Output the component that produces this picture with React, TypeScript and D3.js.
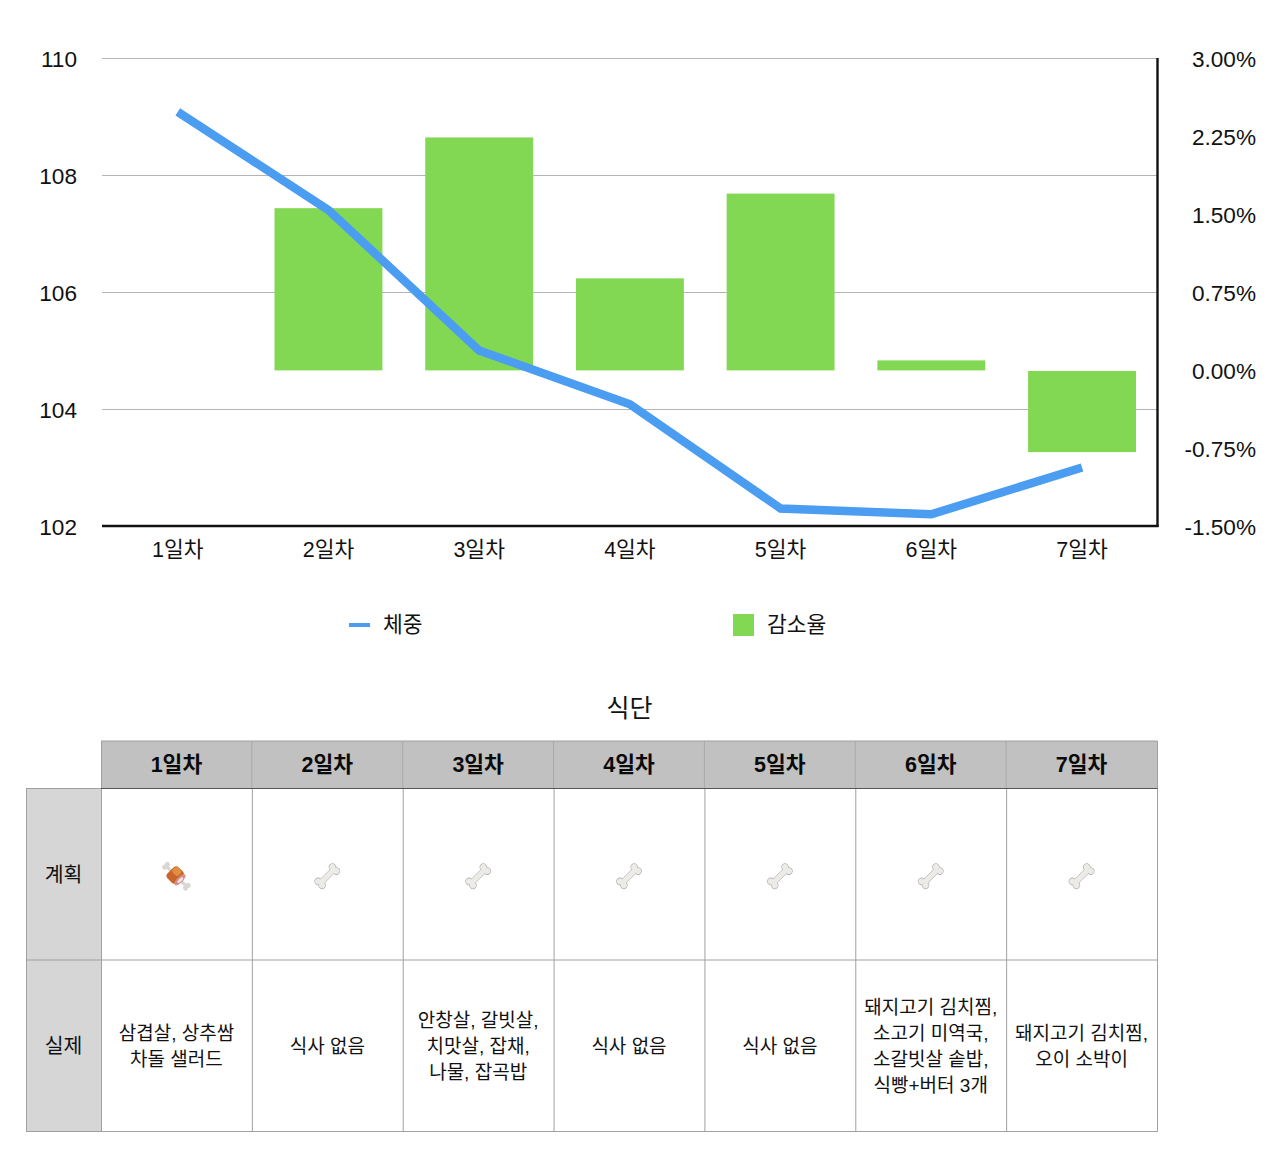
import React from "react";
import * as d3 from "d3";

const days = ["1일차", "2일차", "3일차", "4일차", "5일차", "6일차", "7일차"];
const weight = [109.08, 107.4, 105.0, 104.08, 102.3, 102.2, 103.0];
const rate: (number | null)[] = [null, 1.56, 2.24, 0.885, 1.7, 0.096, -0.78];
const leftTicks = [102, 104, 106, 108, 110];
const rightTicks = [-1.5, -0.75, 0, 0.75, 1.5, 2.25, 3];
const rowHeads = ["계획", "실제"];
const plan = ["meat", "bone", "bone", "bone", "bone", "bone", "bone"];
const actual = [
  ["삼겹살, 상추쌈", "차돌 샐러드"],
  ["식사 없음"],
  ["안창살, 갈빗살,", "치맛살, 잡채,", "나물, 잡곡밥"],
  ["식사 없음"],
  ["식사 없음"],
  ["돼지고기 김치찜,", "소고기 미역국,", "소갈빗살 솥밥,", "식빵+버터 3개"],
  ["돼지고기 김치찜,", "오이 소박이"],
];

const FONT = '"Liberation Sans", "Noto Sans CJK KR", sans-serif';
const L = 102, R = 1157, T = 58, B = 526;

const x = d3.scaleBand<string>().domain(days).range([L + 0.4, R + 0.4]).paddingInner(0.284).paddingOuter(0.142);
const y = d3.scaleLinear().domain([102, 110]).range([B, T]);
const y2 = d3.scaleLinear().domain([-1.5, 3]).range([B, T]);
const cx = (d: string) => x(d)! + x.bandwidth() / 2;
const line = d3.line<number>().x((_, i) => cx(days[i])).y((v) => y(v));

const colX = d3.scaleBand<string>().domain(days).range([101, 1157]);
const rowY = d3.scaleBand<string>().domain(rowHeads).range([788.5, 1131.5]);

function Bone({ px, py }: { px: number; py: number }) {
  return (
    <g transform={`translate(${px},${py}) rotate(-45) scale(0.88)`}>
      <rect x={-11} y={-3.4} width={22} height={6.8} fill="#a8a7a4" />
      <circle cx={-11.5} cy={-3.2} r={4.1} fill="#a8a7a4" />
      <circle cx={-11.5} cy={3.2} r={4.1} fill="#a8a7a4" />
      <circle cx={11.5} cy={-3.2} r={4.1} fill="#a8a7a4" />
      <circle cx={11.5} cy={3.2} r={4.1} fill="#a8a7a4" />
      <rect x={-11} y={-2.9} width={22} height={5.8} fill="#ecebe8" />
      <circle cx={-11.5} cy={-3.2} r={3.5} fill="#ecebe8" />
      <circle cx={-11.5} cy={3.2} r={3.5} fill="#ecebe8" />
      <circle cx={11.5} cy={-3.2} r={3.5} fill="#ecebe8" />
      <circle cx={11.5} cy={3.2} r={3.5} fill="#ecebe8" />
    </g>
  );
}

function Meat({ px, py }: { px: number; py: number }) {
  return (
    <g transform={`translate(${px},${py}) rotate(45) scale(0.92)`}>
      <rect x={-17} y={-1.8} width={34} height={3.6} fill="#d8d7d3" />
      <circle cx={-16} cy={-2} r={2.8} fill="#d8d7d3" />
      <circle cx={-16} cy={2} r={2.8} fill="#d8d7d3" />
      <circle cx={16} cy={-2} r={2.8} fill="#d8d7d3" />
      <circle cx={16} cy={2} r={2.8} fill="#d8d7d3" />
      <rect x={-9} y={-8.5} width={14} height={17} rx={4} fill="#c9652a" />
      <rect x={-8} y={-8} width={9} height={8} rx={3} fill="#e08f42" />
      <ellipse cx={5.5} cy={0} rx={3.2} ry={8} fill="#d98e8c" />
      <ellipse cx={6} cy={0} rx={1.6} ry={4} fill="#efe6e0" />
    </g>
  );
}

export default function App() {
  return (
    <svg width={1280} height={1171} style={{ position: "absolute", left: 0, top: 0, display: "block", background: "#fff" }} fontFamily={FONT}>
      {leftTicks.map((t) => (
        <g key={t}>
          {t !== 102 && <line x1={L} x2={R} y1={y(t) + 0.5} y2={y(t) + 0.5} stroke="#b4b4b4" strokeWidth={1} />}
          <text x={77} y={y(t) + 8.8} textAnchor="end" fontSize={22.6} fill="#111">{t}</text>
        </g>
      ))}
      {rightTicks.map((t) => (
        <text key={t} x={1256} y={y2(t) + 8.5} textAnchor="end" fontSize={22.6} fill="#111">{t.toFixed(2)}%</text>
      ))}
      {days.map((d, i) => {
        const v = rate[i];
        if (v === null) return null;
        const top = Math.min(y2(v), y2(0)), bot = Math.max(y2(v), y2(0));
        return <rect key={d} x={x(d)} y={top + (v < 0 ? 1 : 0.4)} width={x.bandwidth()} height={bot - top} fill="#83d853" />;
      })}
      <line x1={L} x2={1158.5} y1={B} y2={B} stroke="#111" strokeWidth={2.4} />
      <line x1={1157.5} x2={1157.5} y1={T} y2={B + 1} stroke="#111" strokeWidth={2.4} />
      <path d={line(weight)!} fill="none" stroke="#4a9df0" strokeWidth={8.5} strokeLinejoin="miter" />
      {days.map((d) => (
        <text key={d} x={cx(d)} y={557} textAnchor="middle" fontSize={21.5} fill="#111">{d}</text>
      ))}

      <line x1={349} x2={370} y1={625} y2={625} stroke="#4a9df0" strokeWidth={4} />
      <text x={383} y={632} fontSize={21.5} fill="#111">체중</text>
      <rect x={733} y={614} width={21} height={22} fill="#83d853" />
      <text x={767} y={632} fontSize={21.5} fill="#111">감소율</text>

      <text x={629.5} y={717} textAnchor="middle" fontSize={25} fill="#111">식단</text>

      <rect x={101} y={741} width={1056} height={47.5} fill="#c0c1c0" />
      <rect x={26} y={788.5} width={75} height={343} fill="#d6d6d6" />
      <rect x={101} y={788.5} width={1056} height={343} fill="#fff" />
      {days.map((d) => (
        <text key={d} x={colX(d)! + colX.bandwidth() / 2} y={771.5} textAnchor="middle" fontSize={21.5} fontWeight={700} fill="#0a0a0a">{d}</text>
      ))}
      {rowHeads.map((r) => (
        <text key={r} x={63.5} y={rowY(r)! + rowY.bandwidth() / 2 + 7.6} textAnchor="middle" fontSize={20.5} fill="#111">{r}</text>
      ))}
      {days.map((d, i) => {
        const px = colX(d)! + colX.bandwidth() / 2;
        const py = rowY("계획")! + rowY.bandwidth() / 2 + 2;
        return plan[i] === "meat" ? <Meat key={d} px={px} py={py} /> : <Bone key={d} px={px} py={py} />;
      })}
      {days.map((d, i) => {
        const px = colX(d)! + colX.bandwidth() / 2;
        const mid = rowY("실제")! + rowY.bandwidth() / 2;
        const lines = actual[i];
        const lh = 26;
        return lines.map((s, j) => (
          <text key={d + j} x={px} y={mid + (j - (lines.length - 1) / 2) * lh + 6.9} textAnchor="middle" fontSize={19} fill="#111">{s}</text>
        ));
      })}

      {days.slice(1).map((d) => (
        <line key={d} x1={colX(d)} x2={colX(d)} y1={741} y2={788} stroke="#a9aaa9" strokeWidth={1} />
      ))}
      {days.concat(["end"]).map((d, i) => {
        const lx = i === 7 ? 1157 : colX(d)!;
        return <line key={d} x1={lx + 0.5} x2={lx + 0.5} y1={i === 0 || i === 7 ? 741 : 788} y2={1131.5} stroke="#a0a0a0" strokeWidth={1} />;
      })}
      <line x1={101} x2={1157.5} y1={741} y2={741} stroke="#a0a0a0" strokeWidth={1} />
      <line x1={101} x2={1157.5} y1={788.5} y2={788.5} stroke="#555" strokeWidth={1.2} />
      <line x1={26} x2={101} y1={788.5} y2={788.5} stroke="#a0a0a0" strokeWidth={1} />
      <line x1={26} x2={1157.5} y1={960} y2={960} stroke="#a0a0a0" strokeWidth={1} />
      <line x1={26} x2={1157.5} y1={1131.5} y2={1131.5} stroke="#a0a0a0" strokeWidth={1} />
      <line x1={26.5} x2={26.5} y1={788.5} y2={1131.5} stroke="#a0a0a0" strokeWidth={1} />
    </svg>
  );
}
